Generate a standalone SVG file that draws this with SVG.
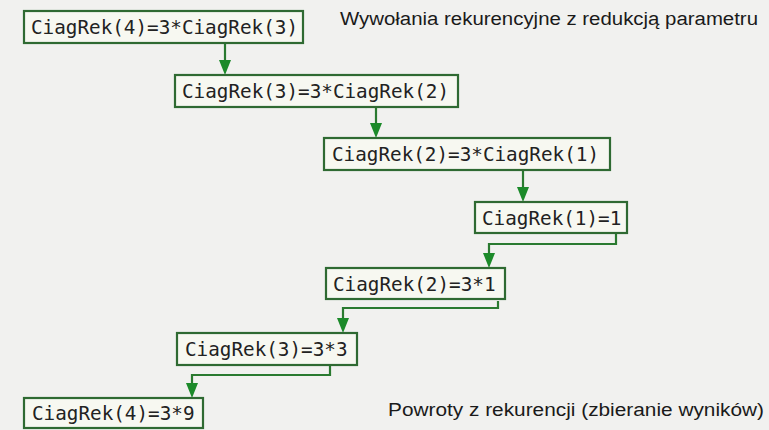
<svg xmlns="http://www.w3.org/2000/svg" width="769" height="430" viewBox="0 0 769 430">
<defs>
<style>
.box rect{fill:#f7f8f1;stroke:#2f6a32;stroke-width:2.2}
.box text{font-family:"DejaVu Sans Mono","Liberation Mono",monospace;font-size:19.3px;fill:#222}
.con path{fill:none;stroke:#2a7a30;stroke-width:2.2}
.head{fill:#1c8a2a}
.lbl{font-family:"Liberation Sans",Arial,sans-serif;font-size:18px;fill:#1a1a1a}
</style>
</defs>
<rect x="0" y="0" width="769" height="430" fill="#f1f1ef"/>
<g id="connectors">
<g class="con">
<path d="M225,44 V62"/>
<path d="M376,108 V125"/>
<path d="M523,171 V189"/>
<path d="M616,234 V244 H489 V255"/>
<path d="M498,301 V308 H343 V320"/>
<path d="M330,366 V375 H192 V385"/>
</g>
<g class="head">
<path d="M219,60 L231,60 L225,75 Z"/>
<path d="M370,123 L382,123 L376,138 Z"/>
<path d="M517,187 L529,187 L523,202 Z"/>
<path d="M483,253 L495,253 L489,268 Z"/>
<path d="M337,318 L349,318 L343,333 Z"/>
<path d="M186,383 L198,383 L192,398 Z"/>
</g>
</g>
<g id="n1" class="box"><rect x="24" y="11" width="279" height="32"/><text x="31" y="34">CiagRek(4)=3*CiagRek(3)</text></g>
<g id="n2" class="box"><rect x="175" y="75" width="283" height="32"/><text x="182" y="98">CiagRek(3)=3*CiagRek(2)</text></g>
<g id="n3" class="box"><rect x="324" y="138" width="286" height="32"/><text x="332" y="161">CiagRek(2)=3*CiagRek(1)</text></g>
<g id="n4" class="box"><rect x="475" y="202" width="152" height="31"/><text x="482" y="225">CiagRek(1)=1</text></g>
<g id="n5" class="box"><rect x="326" y="268" width="179" height="31"/><text x="333" y="291">CiagRek(2)=3*1</text></g>
<g id="n6" class="box"><rect x="177" y="333" width="180" height="32"/><text x="185" y="356">CiagRek(3)=3*3</text></g>
<g id="n7" class="box"><rect x="24" y="398" width="179" height="30"/><text x="32" y="420">CiagRek(4)=3*9</text></g>
<text class="lbl" x="340" y="25" textLength="418" lengthAdjust="spacingAndGlyphs">Wywołania rekurencyjne z redukcją parametru</text>
<text class="lbl" x="388" y="416" textLength="376" lengthAdjust="spacingAndGlyphs">Powroty z rekurencji (zbieranie wyników)</text>
</svg>
